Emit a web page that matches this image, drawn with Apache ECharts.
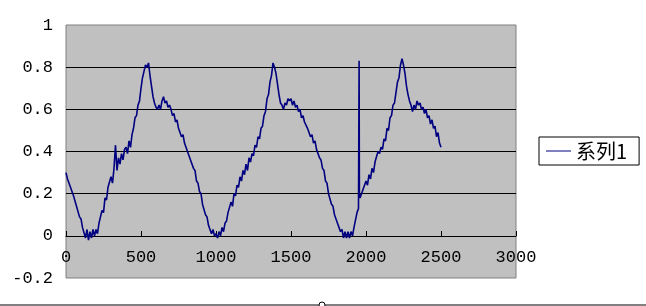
<!DOCTYPE html>
<html>
<head>
<meta charset="utf-8">
<script src="https://cdn.jsdelivr.net/npm/echarts@6/dist/echarts.min.js"></script>
<style>
html,body{margin:0;padding:0;background:#fff;}
#chart{width:646px;height:306px;}
</style>
</head>
<body>
<div id="chart"></div>
<script>
// Series name
const seriesName = '系列1';
// Sample spacing along x for yValues (x = 0, 10, 20, ... 2500)
const xStep = 10;
// y values, one per xStep
const yValues = [
  0.30, 0.27, 0.27, 0.23, 0.23, 0.19, 0.19, 0.14, 0.14, 0.09,
  0.08, 0.04, 0.04, -0.01, 0.03, -0.02, 0.02, -0.01, 0.03, 0.00,
  0.03, 0.01, 0.06, 0.06, 0.12, 0.11, 0.18, 0.17, 0.23, 0.23,
  0.28, 0.25, 0.32, 0.43, 0.31, 0.37, 0.34, 0.39, 0.36, 0.41,
  0.42, 0.39, 0.45, 0.42, 0.48, 0.51, 0.56, 0.57, 0.62, 0.64,
  0.70, 0.75, 0.78, 0.81, 0.80, 0.82, 0.76, 0.71, 0.66, 0.63,
  0.61, 0.60, 0.62, 0.60, 0.64, 0.66, 0.63, 0.64, 0.61, 0.62,
  0.60, 0.57, 0.58, 0.54, 0.55, 0.51, 0.51, 0.47, 0.48, 0.44,
  0.44, 0.40, 0.40, 0.36, 0.36, 0.32, 0.31, 0.26, 0.25, 0.21,
  0.20, 0.15, 0.15, 0.10, 0.09, 0.05, 0.05, 0.01, 0.03, 0.00,
  0.01, -0.01, 0.02, 0.00, 0.04, 0.02, 0.06, 0.07, 0.11, 0.11,
  0.16, 0.14, 0.20, 0.19, 0.24, 0.23, 0.28, 0.26, 0.31, 0.29,
  0.34, 0.31, 0.37, 0.35, 0.39, 0.38, 0.43, 0.42, 0.47, 0.46,
  0.51, 0.52, 0.57, 0.59, 0.65, 0.67, 0.73, 0.76, 0.82, 0.80,
  0.77, 0.72, 0.67, 0.63, 0.62, 0.60, 0.63, 0.62, 0.65, 0.64,
  0.65, 0.62, 0.64, 0.61, 0.62, 0.59, 0.60, 0.56, 0.57, 0.54,
  0.54, 0.51, 0.51, 0.47, 0.48, 0.44, 0.45, 0.41, 0.41, 0.37,
  0.36, 0.32, 0.31, 0.26, 0.25, 0.20, 0.20, 0.15, 0.14, 0.10,
  0.10, 0.06, 0.06, 0.02, 0.03, -0.01, 0.02, -0.01, 0.02, -0.01,
  0.02, 0.00, 0.04, 0.04, 0.11, 0.13, 0.18, 0.20, 0.20, 0.24,
  0.26, 0.24, 0.29, 0.27, 0.32, 0.30, 0.35, 0.35, 0.40, 0.39,
  0.42, 0.41, 0.46, 0.45, 0.51, 0.50, 0.56, 0.57, 0.62, 0.63,
  0.68, 0.73, 0.75, 0.81, 0.84, 0.81, 0.77, 0.71, 0.67, 0.64,
  0.62, 0.59, 0.62, 0.60, 0.64, 0.62, 0.63, 0.60, 0.61, 0.58,
  0.60, 0.56, 0.57, 0.53, 0.55, 0.51, 0.52, 0.47, 0.49, 0.44,
  0.42
];
// Single spike near x = 1955
const spikeX = [1954, 1956];
const spikeY = [0.83, 0.20];
// Axis tick labels
const xTicks = [0, 500, 1000, 1500, 2000, 2500, 3000];
const yTicks = [-0.2, 0, 0.2, 0.4, 0.6, 0.8, 1];

const points = yValues.map((y, i) => [i * xStep, y]);
spikeX.forEach((x, i) => points.push([x, spikeY[i]]));
points.sort((a, b) => a[0] - b[0]);

const labelFont = 'Liberation Mono';
const gridTop = 25, gridBottom = 28, chartH = 306;
const plotH = chartH - gridTop - gridBottom;
// the x axis crosses the y axis at value 0: shift it up from the bottom edge
const yMin = yTicks[0], yMax = yTicks[yTicks.length - 1];
const zeroOffset = -Math.round((0 - yMin) / (yMax - yMin) * plotH);

const chart = echarts.init(document.getElementById('chart'), null, {renderer: 'canvas'});
chart.setOption({
  animation: false,
  backgroundColor: '#ffffff',
  grid: {
    left: 66, right: 130, top: gridTop, bottom: gridBottom,
    show: true,
    backgroundColor: '#C0C0C0',
    borderColor: '#808080',
    borderWidth: 1
  },
  xAxis: {
    type: 'value',
    position: 'bottom',
    offset: zeroOffset,
    min: xTicks[0], max: xTicks[xTicks.length - 1], interval: 500,
    axisLine: {show: true, onZero: false, lineStyle: {color: '#000000', width: 1}},
    axisTick: {show: true, inside: true, length: 5, lineStyle: {color: '#000000'}},
    axisLabel: {
      margin: 13, color: '#000000', fontFamily: labelFont, fontSize: 17,
      formatter: v => String(v)
    },
    splitLine: {show: false}
  },
  yAxis: {
    type: 'value',
    min: yMin, max: yMax, interval: 0.2,
    axisLine: {show: false, onZero: false},
    axisTick: {show: false},
    axisLabel: {
      margin: 13, color: '#000000', fontFamily: labelFont, fontSize: 17,
      formatter: v => {
        const t = yTicks.find(t => Math.abs(t - v) < 1e-6);
        return t === undefined ? '' : String(t);
      }
    },
    splitLine: {show: true, showMinLine: false, showMaxLine: false, lineStyle: {color: '#000000', width: 1}}
  },
  legend: {
    show: true,
    data: [{name: seriesName, icon: 'rect'}],
    orient: 'vertical',
    left: 539, top: 137,
    padding: [4, 12, 4, 7],
    itemWidth: 25, itemHeight: 1,
    backgroundColor: '#ffffff',
    borderColor: '#000000', borderWidth: 1,
    textStyle: {fontFamily: 'Noto Sans CJK SC', fontSize: 20, color: '#000000', lineHeight: 20}
  },
  series: [{
    name: seriesName,
    type: 'line',
    data: points,
    showSymbol: false,
    symbol: 'none',
    lineStyle: {color: '#000080', width: 1.6},
    itemStyle: {color: '#000080'},
    z: 3
  }],
  graphic: [
    {type: 'line', shape: {x1: 0, y1: 305, x2: 646, y2: 305}, style: {stroke: '#000000', lineWidth: 1}, silent: true},
    {type: 'circle', shape: {cx: 322, cy: 305, r: 3}, style: {fill: '#ffffff', stroke: '#000000', lineWidth: 1}, silent: true}
  ]
});
</script>
</body>
</html>
